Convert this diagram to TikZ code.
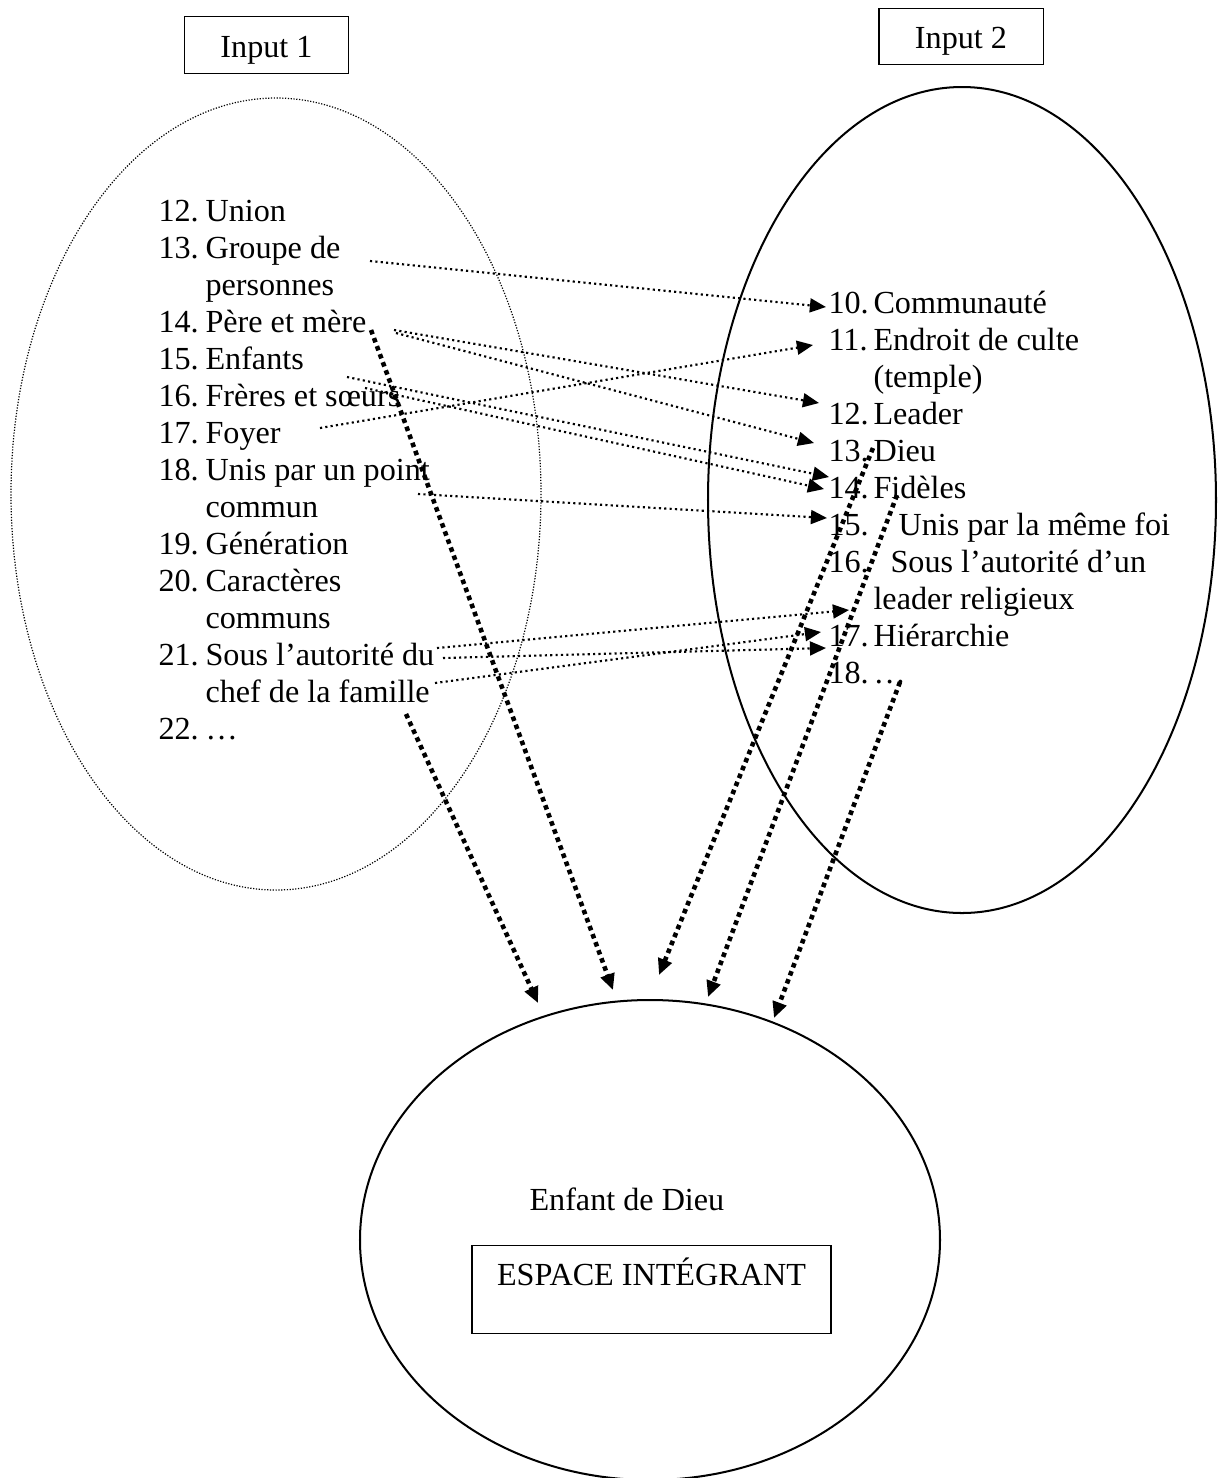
\documentclass[tikz,border=0pt]{standalone}
\usepackage{fontspec}
\setmainfont{Liberation Serif}
\usetikzlibrary{arrows.meta}

\begin{document}
\begin{tikzpicture}[x=0.373pt, y=-0.373pt,
    every node/.style={font=\fontsize{12pt}{13.8pt}\selectfont, inner sep=0pt},
    item/.style={anchor=base west},
    frame/.style={draw, line width=0.4pt, anchor=north, text depth=6pt},
    link/.style={-{Triangle[length=6pt, width=5.2pt]}, line width=0.8pt, dash pattern=on 0.8pt off 1.2pt},
    blend/.style={-{Triangle[length=6pt, width=5.2pt]}, line width=1.7pt, dash pattern=on 1.7pt off 1.5pt}]

    \useasboundingbox (0,0) rectangle (1219,1478);

    \node[frame, minimum width=61.5pt, text height=15.3pt] (input1) at (266.5,16) {Input 1};
    \node[frame, minimum width=61.2pt, text height=14.9pt] (input2) at (961,8) {Input 2};

    \draw[line width=0.45pt, dash pattern=on 0.45pt off 0.6pt] (276,494) ellipse (265 and 396);
    \draw[line width=0.75pt] (962,500) ellipse (254 and 413);
    \draw[line width=0.75pt] (650,1240) ellipse (290 and 240);

    \foreach \y/\num/\txt [count=\i] in {221/12./Union, 258/13./Groupe de, 295//personnes,
        332/14./Père et mère, 369/15./Enfants, 406/16./Frères et sœurs, 443/17./Foyer,
        480/18./Unis par un point, 517//commun, 554/19./Génération, 591/20./Caractères,
        628//communs, 665/21./Sous l’autorité du, 702//chef de la famille, 739/22./…} {
      \node[item] (ln\i) at (158,\y) {\num};
      \node[item] (lt\i) at (205,\y) {\txt};
    }
    \foreach \y/\num/\x/\txt [count=\i] in {313/10./873/Communauté, 350/11./873/Endroit de culte,
        387//873/(temple), 424/12./873/Leader, 461/13./873/Dieu, 498/14./873/Fidèles,
        535/15./898/Unis par la même foi, 572/16./890/Sous l’autorité d’un,
        609//873/leader religieux, 646/17./873/Hiérarchie, 683/18./873/…} {
      \node[item] (rn\i) at (828,\y) {\num};
      \node[item] (rt\i) at (\x,\y) {\txt};
    }

    \node[item] (enfant) at (529,1210) {Enfant de Dieu};
    \node[frame, minimum width=133.9pt, text height=14.9pt, text depth=17.9pt] (espace) at (651.5,1245) {ESPACE INTÉGRANT};

    \coordinate (a13) at (370,261);
    \coordinate (a14) at (394,330);
    \coordinate (a14b) at (396,333);
    \coordinate (a16) at (347,377);
    \coordinate (a16b) at (365,388);
    \coordinate (a17) at (320,428);
    \coordinate (a18) at (418,494);
    \coordinate (a21) at (437,648);
    \coordinate (a21b) at (443,658);
    \coordinate (a21c) at (435,683);

    \coordinate (b10) at (826,307);
    \coordinate (b11) at (813,345);
    \coordinate (b12) at (819,403);
    \coordinate (b13) at (814,443);
    \coordinate (b14) at (829,477);
    \coordinate (b14b) at (824,489);
    \coordinate (b15) at (827,518);
    \coordinate (b16) at (849,610);
    \coordinate (b17) at (821,632);
    \coordinate (b17b) at (826,648);

    \foreach \s/\e in {a13/b10, a14/b12, a14b/b13, a16/b14, a16b/b14b, a17/b11,
        a18/b15, a21/b16, a21b/b17b, a21c/b17} {
      \draw[link] (\s) -- (\e);
    }

    \coordinate (p14) at (371,330);
    \coordinate (p22) at (406,714);
    \coordinate (q13) at (873,448);
    \coordinate (q14) at (897,495);
    \coordinate (q18) at (900,682);

    \coordinate (e1) at (538,1003);
    \coordinate (e2) at (613,990);
    \coordinate (e3) at (659,975);
    \coordinate (e4) at (708,997);
    \coordinate (e5) at (774,1018);

    \foreach \s/\e in {p14/e2, p22/e1, q13/e3, q14/e4, q18/e5} {
      \draw[blend] (\s) -- (\e);
    }
  \end{tikzpicture}
\end{document}
